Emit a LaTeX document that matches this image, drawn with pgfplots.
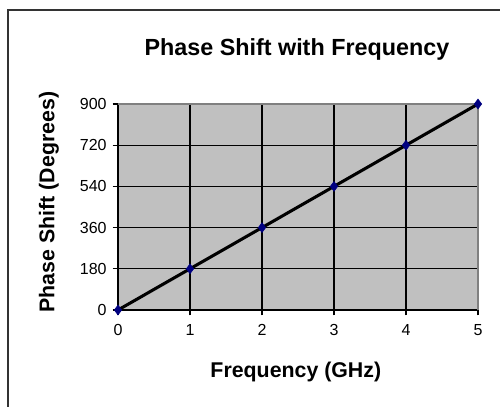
\documentclass[border=0pt]{standalone}
\usepackage{pgfplots}
\pgfplotsset{compat=1.18}
\usepackage{fontspec}
\setmainfont{Liberation Sans}
\definecolor{plotgray}{RGB}{192,192,192}
\definecolor{marknavy}{RGB}{0,0,128}
\begin{document}
\begin{tikzpicture}
\path[use as bounding box] (0,0) rectangle (375pt,-305.25pt);
\draw[black!80, line width=0.8pt] (6pt,-306pt) -- (6pt,-7.5pt) -- (376pt,-7.5pt);
\begin{axis}[
  at={(88.5pt,-232.5pt)}, anchor=south west,
  scale only axis, width=270pt, height=154.5pt,
  xmin=0, xmax=5, ymin=0, ymax=900,
  xtick={0,1,2,3,4,5}, ytick={0,180,360,540,720,900},
  axis lines=left, axis line style={-, black, line width=0.8pt},
  tick align=outside, major tick length=4pt,
  tick style={black, line width=0.8pt},
  grid=major, major grid style={black, line width=0.8pt},
  axis background/.style={fill=plotgray},
  /pgf/number format/assume math mode=true,
  ticklabel style={font=\fontsize{12}{14}\selectfont},
  xticklabel style={yshift=-3pt},
  yticklabel style={xshift=-1pt},
  title={Phase Shift with Frequency},
  title style={at={(axis description cs:0.497,1.225)}, anchor=center, font=\bfseries\fontsize{17.5}{20}\selectfont},
  xlabel={Frequency (GHz)},
  xlabel style={at={(axis description cs:0.494,-0.30)}, anchor=center, font=\bfseries\fontsize{16}{19}\selectfont},
  ylabel={Phase Shift (Degrees)},
  ylabel style={at={(axis description cs:-0.192,0.524)}, anchor=center, font=\bfseries\fontsize{16}{19}\selectfont},
  clip=false,
]
\draw[gray, line width=0.8pt] (rel axis cs:0,1) -- (rel axis cs:1,1) -- (rel axis cs:1,0);
\addplot[black, line width=2.3pt, mark=diamond*, mark size=3.7pt,
  mark options={fill=marknavy, draw=marknavy, line width=0.4pt}]
  coordinates {(0,0) (1,180) (2,360) (3,540) (4,720) (5,900)};
\end{axis}
\end{tikzpicture}
\end{document}
